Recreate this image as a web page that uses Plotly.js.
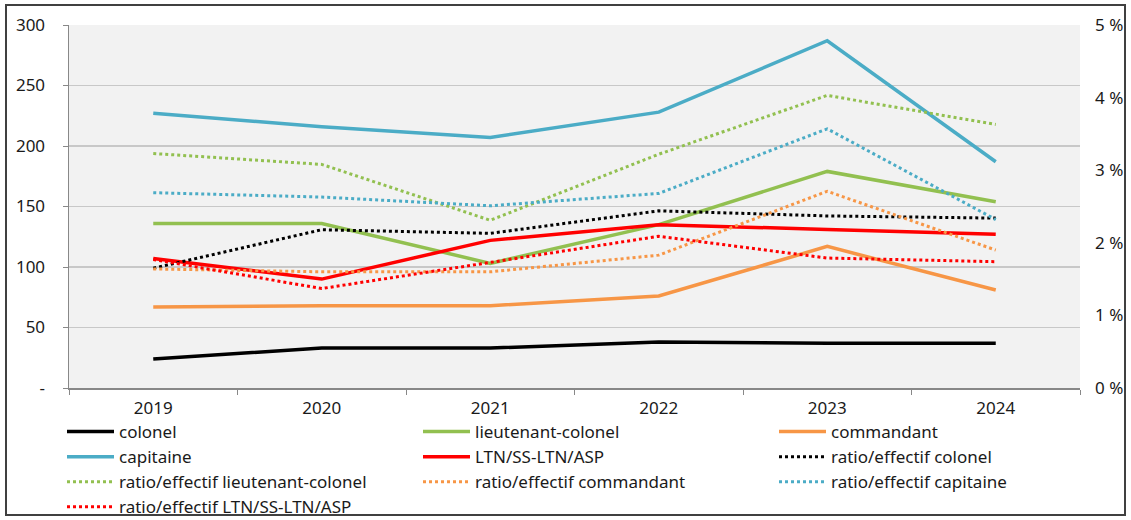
<!DOCTYPE html>
<html>
<head>
<meta charset="utf-8">
<script src="https://cdn.plot.ly/plotly-3.0.1.min.js"></script>
<style>
html,body{margin:0;padding:0;background:#fff;}
#chart{width:1131px;height:520px;}
</style>
</head>
<body>
<div id="chart"></div>
<script>
const years = ["2019","2020","2021","2022","2023","2024"];
const colonel = [24, 33, 33, 38, 37, 37];
const lieutenantColonel = [136, 136, 103, 135, 179, 154];
const commandant = [67, 68, 68, 76, 117, 81];
const capitaine = [227, 216, 207, 228, 287, 187];
const ltnSsLtnAsp = [107, 90, 122, 135, 131, 127];
const ratioColonel = [1.65, 2.18, 2.13, 2.44, 2.37, 2.34];
const ratioLieutenantColonel = [3.23, 3.08, 2.31, 3.22, 4.03, 3.63];
const ratioCommandant = [1.64, 1.60, 1.60, 1.83, 2.71, 1.90];
const ratioCapitaine = [2.69, 2.63, 2.51, 2.68, 3.57, 2.32];
const ratioLtn = [1.77, 1.37, 1.73, 2.09, 1.79, 1.74];
const leftTicks = [0, 50, 100, 150, 200, 250, 300];
const leftTickText = ["-", "50", "100", "150", "200", "250", "300"];

const C = {black:"#000000", green:"#92C050", orange:"#F79646", blue:"#4BACC6", red:"#FF0000"};

function solid(name, y, color){
  return {x: years, y: y, name: name, type: "scatter", mode: "lines",
    line: {color: color, width: 3.5}, yaxis: "y"};
}
function dotted(name, y, color){
  return {x: years, y: y, name: name, type: "scatter", mode: "lines",
    line: {color: color, width: 3, dash: "dot"}, yaxis: "y2"};
}

const data = [
  solid("colonel", colonel, C.black),
  solid("lieutenant-colonel", lieutenantColonel, C.green),
  solid("commandant", commandant, C.orange),
  solid("capitaine", capitaine, C.blue),
  solid("LTN/SS-LTN/ASP", ltnSsLtnAsp, C.red),
  dotted("ratio/effectif colonel", ratioColonel, C.black),
  dotted("ratio/effectif lieutenant-colonel", ratioLieutenantColonel, C.green),
  dotted("ratio/effectif commandant", ratioCommandant, C.orange),
  dotted("ratio/effectif capitaine", ratioCapitaine, C.blue),
  dotted("ratio/effectif LTN/SS-LTN/ASP", ratioLtn, C.red)
];

const font = {family: "Noto Sans, Open Sans, sans-serif", size: 17, color: "#1a1a1a"};
const L = 69, R = 1080, T = 25, B = 388;
const pw = R - L, ph = B - T;
function px(x){ return (x - L) / pw; }
function py(y){ return (B - y) / ph; }

const layout = {
  width: 1131, height: 520,
  margin: {l: L, r: 1131 - R, t: T, b: 520 - B, pad: 0, autoexpand: false},
  paper_bgcolor: "#ffffff",
  plot_bgcolor: "#F2F2F2",
  font: font,
  showlegend: true,
  xaxis: {
    type: "category", range: [-0.5, 5.5], tickson: "boundaries",
    ticks: "outside", ticklen: 5, tickcolor: "#888888", tickwidth: 1,
    showline: true, linecolor: "#888888", linewidth: 1.5,
    showgrid: false, zeroline: false, ticklabelstandoff: 4,
    tickfont: font, automargin: false
  },
  yaxis: {
    range: [0, 300], tickvals: leftTicks, ticktext: leftTickText,
    ticks: "outside", ticklen: 5, tickcolor: "#888888",
    showline: true, linecolor: "#888888", linewidth: 1.5,
    showgrid: true, gridcolor: "#C8C8C8", gridwidth: 1.2,
    zeroline: false, ticklabelstandoff: 14, tickfont: font, automargin: false
  },
  yaxis2: {
    range: [0, 5], dtick: 1, tick0: 0, ticksuffix: " %",
    overlaying: "y", side: "right", showgrid: false, zeroline: false,
    showline: false, ticks: "", ticklabelstandoff: 14, tickfont: font, automargin: false
  },
  legend: {
    orientation: "h", x: px(62), y: py(414), xanchor: "left", yanchor: "top",
    entrywidth: 294, entrywidthmode: "pixels",
    font: font, bgcolor: "rgba(0,0,0,0)", itemwidth: 47,
    tracegroupgap: 0, traceorder: "normal"
  },
  shapes: [{
    type: "rect", xref: "paper", yref: "paper",
    x0: px(6), x1: px(1125), y0: py(515), y1: py(5),
    line: {color: "#404040", width: 2}, fillcolor: "rgba(0,0,0,0)", layer: "above"
  }]
};

Plotly.newPlot("chart", data, layout, {displayModeBar: false, staticPlot: true});
</script>
</body>
</html>
